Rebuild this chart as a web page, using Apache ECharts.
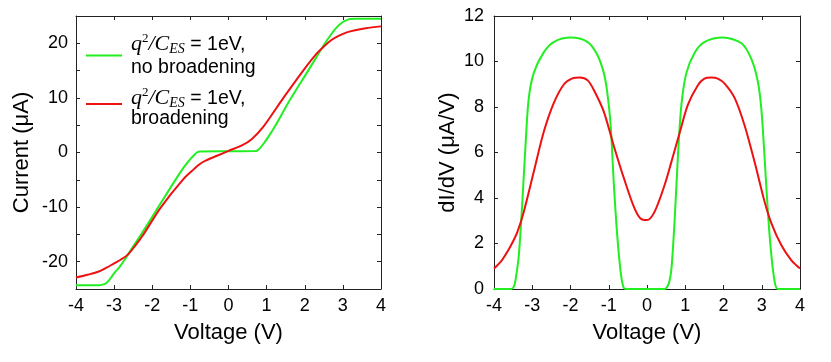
<!DOCTYPE html>
<html>
<head>
<meta charset="utf-8">
<script src="https://cdn.jsdelivr.net/npm/echarts@6/dist/echarts.min.js"></script>
<style>
html,body{margin:0;padding:0;background:#fff;}
#chart{width:831px;height:362px;}
</style>
</head>
<body>
<div id="chart"></div>
<script>
// ---- Data ----
const xTicks = [-4, -3, -2, -1, 0, 1, 2, 3, 4];
const currentTicks = [-20, -10, 0, 10, 20];
const didvTicks = [0, 2, 4, 6, 8, 10, 12];

// Current (uA) vs Voltage (V), no broadening (green)
const currentNoBroad = [
  [-4,-24.3],[-3.4,-24.3],[-3.3,-24.2],[-3.2,-23.9],[-3.12,-23.3],[-3.05,-22.6],[-2.95,-21.7],
  [-2.85,-20.9],[-2.73,-19.7],[-2.64,-18.7],[-2.5,-17.2],[-2.29,-15.0],[-1.85,-10.1],[-1.4,-5.1],
  [-1.15,-2.5],[-1.0,-1.2],[-0.9,-0.45],[-0.82,0.05],[-0.75,0.2],[0,0.24],[0.69,0.26],
  [0.76,0.4],[0.85,1.0],[0.95,1.9],[1.05,2.9],[1.22,4.8],[1.61,9.6],[2.09,15.0],
  [2.53,20.0],[2.7,21.7],[2.85,23.0],[3.0,23.9],[3.1,24.25],[3.2,24.45],[3.35,24.5],[4,24.5]
];
// Current (uA) vs Voltage (V), broadening (red)
const currentBroad = [
  [-4,-22.9],[-3.7,-22.4],[-3.4,-21.8],[-3.2,-21.1],[-3.0,-20.3],[-2.82,-19.6],[-2.64,-18.7],
  [-2.45,-17.1],[-2.25,-15.2],[-1.77,-10.0],[-1.2,-5.0],[-0.9,-3.0],[-0.75,-2.1],[-0.6,-1.5],[-0.3,-0.6],
  [0,0.3],[0.35,1.3],[0.6,2.4],[0.9,4.6],[1.44,10.0],[1.96,15.0],[2.3,18.0],[2.53,19.6],
  [2.7,20.6],[2.9,21.4],[3.1,22.0],[3.32,22.4],[3.6,22.75],[4,23.1]
];
// dI/dV (uA/V), no broadening (green)
const didvNoBroad = [
  [-4,0],[-3.55,0],[-3.48,0.1],[-3.43,0.47],[-3.35,1.5],[-3.26,3.8],[-3.17,6.5],[-3.09,8.4],
  [-2.96,9.5],[-2.7,10.4],[-2.43,10.86],[-2.0,11.05],[-1.56,10.86],[-1.3,10.3],[-1.13,9.5],
  [-1.04,8.66],[-0.95,7.2],[-0.87,4.7],[-0.78,2.4],[-0.69,0.76],[-0.62,0.1],[-0.55,0],
  [0,0],[0.45,0],[0.51,0.05],[0.58,0.3],[0.64,0.9],[0.73,3.25],[0.81,5.9],[0.9,8.1],
  [1.03,9.5],[1.25,10.4],[1.51,10.86],[1.99,11.05],[2.47,10.8],[2.73,10.1],[2.9,9.1],
  [2.99,7.9],[3.07,5.9],[3.16,3.4],[3.25,1.5],[3.34,0.3],[3.42,0],[4,0]
];
// dI/dV (uA/V), broadening (red)
const didvBroad = [
  [-4,0.9],[-3.8,1.25],[-3.65,1.64],[-3.5,2.1],[-3.39,2.5],[-3.22,3.4],[-2.96,5.15],
  [-2.7,6.9],[-2.43,8.2],[-2.17,9.0],[-1.95,9.26],[-1.75,9.3],[-1.55,9.17],[-1.39,8.75],
  [-1.13,7.8],[-0.87,6.3],[-0.6,4.85],[-0.34,3.6],[-0.17,3.1],[0,3.03],[0.2,3.4],
  [0.46,4.57],[0.64,5.6],[0.86,6.9],[1.07,8.1],[1.33,8.96],[1.5,9.25],[1.68,9.3],
  [1.85,9.25],[2.03,9.03],[2.29,8.4],[2.55,7.2],[2.81,5.6],[3.08,3.8],[3.25,2.9],
  [3.51,1.93],[3.77,1.27],[4,0.9]
];

const GREEN = '#22ee22';
const RED = '#ee1111';
const AXIS = '#222';
const FONT = 'Liberation Sans, Arial, sans-serif';
const SERIF = 'Liberation Serif, Times New Roman, serif';

const chart = echarts.init(document.getElementById('chart'), null, {renderer: 'canvas'});

function xAx(grid, pos, showLabel, name) {
  return {
    type: 'value', gridIndex: grid, position: pos,
    min: xTicks[0], max: xTicks[xTicks.length - 1], interval: 1,
    axisLine: {show: true, onZero: false, lineStyle: {color: AXIS, width: 1}},
    axisTick: {show: true, inside: true, length: 4, lineStyle: {color: AXIS}},
    axisLabel: {show: showLabel, color: '#000', fontSize: 18, fontFamily: FONT, margin: 8},
    splitLine: {show: false},
    name: name || '', nameLocation: 'middle', nameGap: 33,
    nameTextStyle: {color: '#000', fontSize: 22, fontFamily: FONT}
  };
}
function yAx(grid, pos, showLabel, min, max, interval, ticks, name, gap, margin) {
  return {
    type: 'value', gridIndex: grid, position: pos,
    min: min, max: max, interval: interval,
    axisLine: {show: true, onZero: false, lineStyle: {color: AXIS, width: 1}},
    axisTick: {show: true, inside: true, length: 4, lineStyle: {color: AXIS}},
    axisLabel: {show: showLabel, color: '#000', fontSize: 18, fontFamily: FONT, margin: margin || 8,
      formatter: v => (ticks.indexOf(v) >= 0 ? String(v) : '')},
    splitLine: {show: false},
    name: name || '', nameLocation: 'middle', nameGap: gap || 40, nameRotate: 90,
    nameTextStyle: {color: '#000', fontSize: 22, fontFamily: FONT}
  };
}

const legendRich = {
  i: {fontFamily: SERIF, fontStyle: 'italic', fontSize: 22, lineHeight: 24, verticalAlign: 'middle', color: '#000'},
  sup: {fontFamily: SERIF, fontSize: 13, lineHeight: 13, verticalAlign: 'top', color: '#000'},
  sub: {fontFamily: SERIF, fontStyle: 'italic', fontSize: 14, lineHeight: 13, verticalAlign: 'bottom', color: '#000'},
  n: {fontFamily: FONT, fontSize: 19.5, lineHeight: 24, verticalAlign: 'middle', color: '#000'}
};

chart.setOption({
  backgroundColor: '#fff',
  animation: false,
  grid: [
    {left: 76, top: 16, width: 305, height: 273, containLabel: false},
    {left: 494, top: 16, width: 306, height: 273, containLabel: false}
  ],
  xAxis: [
    xAx(0, 'bottom', true, 'Voltage (V)'),
    xAx(0, 'top', false),
    xAx(1, 'bottom', true, 'Voltage (V)'),
    xAx(1, 'top', false)
  ],
  yAxis: [
    yAx(0, 'left', true, -25, 25, 5, currentTicks, 'Current (\u03bcA)', 43, 8),
    yAx(0, 'right', false, -25, 25, 5, currentTicks),
    yAx(1, 'left', true, 0, 12, 2, didvTicks, 'dI/dV (\u03bcA/V)', 35, 10),
    yAx(1, 'right', false, 0, 12, 2, didvTicks)
  ],
  series: [
    {type: 'line', xAxisIndex: 0, yAxisIndex: 0, data: currentNoBroad, showSymbol: false, smooth: 0.3,
      lineStyle: {color: GREEN, width: 2}, itemStyle: {color: GREEN}},
    {type: 'line', xAxisIndex: 0, yAxisIndex: 0, data: currentBroad, showSymbol: false, smooth: 0.3,
      lineStyle: {color: RED, width: 2}, itemStyle: {color: RED}},
    {type: 'line', xAxisIndex: 2, yAxisIndex: 2, data: didvNoBroad, showSymbol: false, smooth: 0.3,
      lineStyle: {color: GREEN, width: 2}, itemStyle: {color: GREEN}},
    {type: 'line', xAxisIndex: 2, yAxisIndex: 2, data: didvBroad, showSymbol: false, smooth: 0.3,
      lineStyle: {color: RED, width: 2}, itemStyle: {color: RED}}
  ],
  graphic: [
    {type: 'line', shape: {x1: 86, y1: 55.5, x2: 122, y2: 55.5}, style: {stroke: GREEN, lineWidth: 2}},
    {type: 'text', x: 131, y: 44.5, style: {text: '{i|q}{sup|2}{i|/C}{sub|ES}{n| = 1eV,}', rich: legendRich, verticalAlign: 'middle', align: 'left'}},
    {type: 'text', x: 131, y: 67.5, style: {text: 'no broadening', fill: '#000', font: '19.5px ' + FONT, verticalAlign: 'middle', align: 'left'}},
    {type: 'line', shape: {x1: 86, y1: 104, x2: 122, y2: 104}, style: {stroke: RED, lineWidth: 2}},
    {type: 'text', x: 131, y: 98.5, style: {text: '{i|q}{sup|2}{i|/C}{sub|ES}{n| = 1eV,}', rich: legendRich, verticalAlign: 'middle', align: 'left'}},
    {type: 'text', x: 131, y: 118.5, style: {text: 'broadening', fill: '#000', font: '19.5px ' + FONT, verticalAlign: 'middle', align: 'left'}}
  ]
});
</script>
</body>
</html>
